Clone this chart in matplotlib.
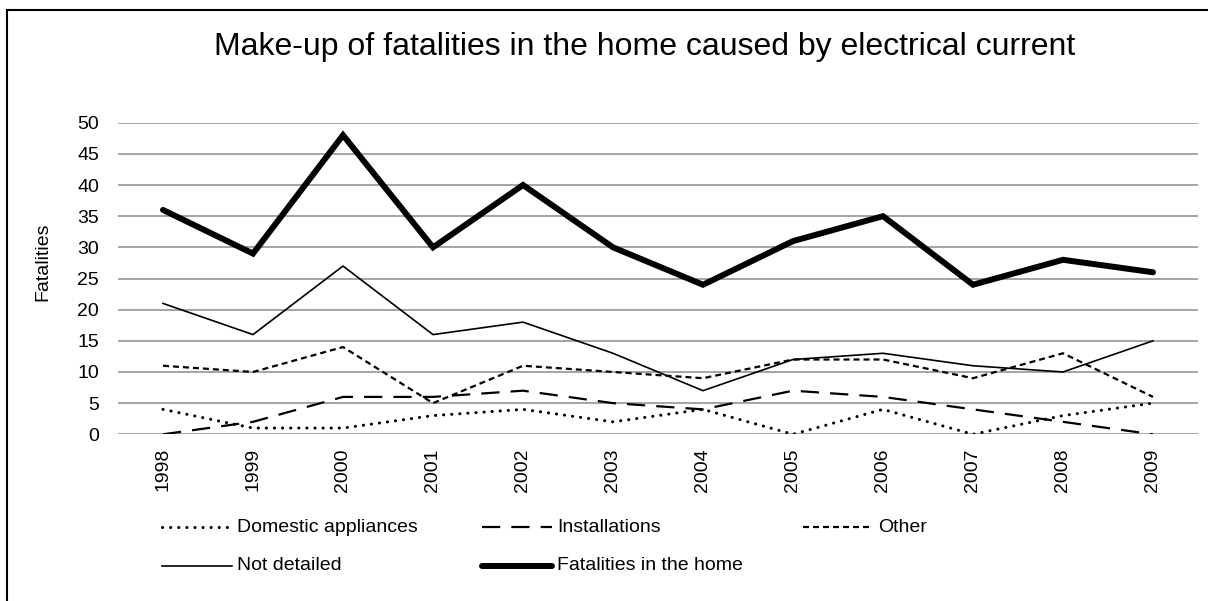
import matplotlib
matplotlib.use("Agg")
import matplotlib.pyplot as plt
from matplotlib.lines import Line2D
from matplotlib.patches import Rectangle

years = ["1998", "1999", "2000", "2001", "2002", "2003", "2004", "2005", "2006", "2007", "2008", "2009"]
domestic = [4, 1, 1, 3, 4, 2, 4, 0, 4, 0, 3, 5]
installations = [0, 2, 6, 6, 7, 5, 4, 7, 6, 4, 2, 0]
other = [11, 10, 14, 5, 11, 10, 9, 12, 12, 9, 13, 6]
not_detailed = [21, 16, 27, 16, 18, 13, 7, 12, 13, 11, 10, 15]
total = [36, 29, 48, 30, 40, 30, 24, 31, 35, 24, 28, 26]
labels = ["Domestic appliances", "Installations", "Other", "Not detailed", "Fatalities in the home"]
yticks = [0, 5, 10, 15, 20, 25, 30, 35, 40, 45, 50]

plt.rcParams['font.family'] = ['Liberation Sans', 'DejaVu Sans']

FS = 14
W, H = 1208, 601
fig = plt.figure(figsize=(W / 100, H / 100), dpi=100)
ax = fig.add_axes([118 / W, 1 - 434.3 / H, 1080 / W, (434.3 - 122.7) / H])

styles = [
    dict(color='black', lw=2.2, linestyle=(0, (0.05, 2.6)), dash_capstyle='round'),
    dict(color='black', lw=1.6, linestyle=(0, (8.2, 5.0)), dash_capstyle='butt'),
    dict(color='black', lw=1.6, linestyle=(0, (2.7, 1.8)), dash_capstyle='butt'),
    dict(color='black', lw=1.2, linestyle='-'),
    dict(color='black', lw=4.3, linestyle='-', solid_capstyle='round', solid_joinstyle='miter'),
]
series = [domestic, installations, other, not_detailed, total]
x = list(range(len(years)))
for s, st in zip(series, styles):
    ax.plot(x, s, zorder=3, **st)

ax.set_xlim(-0.5, len(years) - 0.5)
ax.set_ylim(0, 50)
ax.set_yticks(yticks)
ax.set_yticklabels([str(v) for v in yticks], fontsize=FS)
ax.set_xticks(x)
ax.set_xticklabels(years, rotation=90, fontsize=FS)
ax.tick_params(axis='both', length=0)
ax.tick_params(axis='y', pad=13.5)
ax.tick_params(axis='x', pad=10)
ax.grid(axis='y', color='#8c8c8c', lw=1.1, zorder=0)
for sp in ax.spines.values():
    sp.set_visible(False)

fig.text(645 / W, 1 - 47 / H, "Make-up of fatalities in the home caused by electrical current",
         ha='center', va='center', fontsize=23)
fig.text(43 / W, 1 - 262 / H, "Fatalities", rotation=90, ha='center', va='center', fontsize=FS)

# legend
leg_pos = [(162, 527), (482, 527), (803, 527), (162, 566), (482, 566)]
for (lx, ly), lab, st in zip(leg_pos, labels, styles):
    fig.add_artist(Line2D([lx / W, (lx + 70) / W], [1 - ly / H, 1 - ly / H], transform=fig.transFigure, **st))
    fig.text((lx + 75) / W, 1 - ly / H, lab, ha='left', va='center', fontsize=FS)

fig.add_artist(Rectangle((7 / W, -0.05), 1.1, 1 - 10.5 / H + 0.05, transform=fig.transFigure,
                         fill=False, edgecolor='black', lw=1.5))

fig.savefig("out.png", dpi=100)
